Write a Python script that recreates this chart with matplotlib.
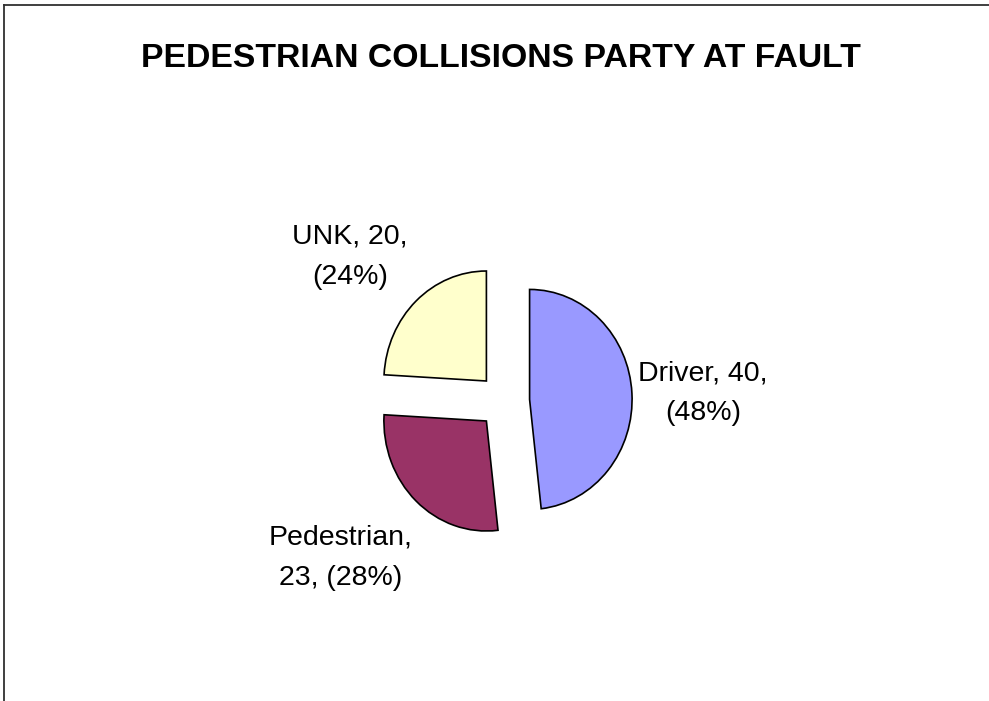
import matplotlib
matplotlib.use("Agg")
import matplotlib.pyplot as plt
from matplotlib.lines import Line2D

# data
categories = ["Driver", "Pedestrian", "UNK"]
counts = [40, 23, 20]
colors = ["#9999FF", "#993366", "#FFFFCC"]
title = "PEDESTRIAN COLLISIONS PARTY AT FAULT"

W, H = 989, 701
plt.rcParams['font.family'] = ['Liberation Sans', 'DejaVu Sans']

fig = plt.figure(figsize=(W / 100, H / 100), dpi=100)
fig.patch.set_facecolor("white")


def fx(px):
    return px / W


def fy(py):
    # pixel measured from top -> figure fraction
    return 1 - py / H


# chart frame (only top and left edges visible)
fig.add_artist(Line2D([fx(3.8), fx(W)], [fy(4.5), fy(4.5)], color="#303030", lw=1.3))
fig.add_artist(Line2D([fx(3.8), fx(3.8)], [fy(4.5), fy(H)], color="#303030", lw=1.3))

fig.text(fx(501), fy(66.7), title, ha="center", va="baseline",
         fontsize=24.3, fontweight="bold")

# pie axes: slightly squashed horizontally like the original
cx, cy = 504, 401
rx, ry = 102.5, 110
lim = 1.5
ax = fig.add_axes([fx(cx - rx * lim), fy(cy + ry * lim), 2 * rx * lim / W, 2 * ry * lim / H])
wedges, _ = ax.pie(counts, colors=colors, startangle=90, counterclock=False,
                   explode=[0.25, 0.25, 0.25],
                   wedgeprops=dict(edgecolor="black", linewidth=1.2))
ax.set_aspect("auto")
ax.set_xlim(-lim, lim)
ax.set_ylim(-lim, lim)
ax.axis("off")

# data labels (anchored on the baseline of the last line)
total = sum(counts)
pcts = [round(100 * c / total) for c in counts]
label_texts = [
    f"{categories[0]}, {counts[0]},\n({pcts[0]}%)",
    f"{categories[1]},\n{counts[1]}, ({pcts[1]}%)",
    f"{categories[2]}, {counts[2]},\n({pcts[2]}%)",
]
label_pos = [(703, 420), (341, 585), (350, 284)]
for txt, (lx, ly) in zip(label_texts, label_pos):
    fig.text(fx(lx), fy(ly), txt, ha="center", va="baseline", multialignment="center",
             fontsize=20.5, linespacing=1.7)

fig.savefig("out.png", dpi=100)
